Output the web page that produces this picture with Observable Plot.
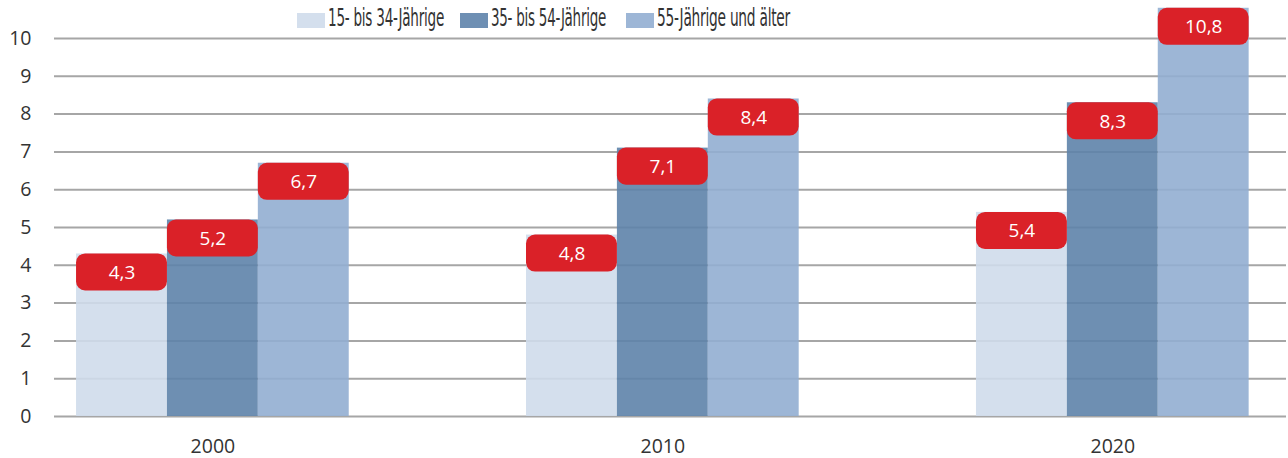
<!DOCTYPE html>
<html>
<head>
<meta charset="utf-8">
<script src="https://cdn.jsdelivr.net/npm/d3@7"></script>
<script src="https://cdn.jsdelivr.net/npm/@observablehq/plot@0.6"></script>
<style>
  html, body { margin: 0; padding: 0; background: #fff; }
  #wrap { position: relative; width: 1288px; height: 458px; }
  #legend { position: absolute; top: 0; left: 0; width: 1288px; height: 40px; z-index: 2;
    font-family: "DejaVu Sans Condensed", "Liberation Sans Narrow", "Open Sans", sans-serif;
    font-size: 24px; color: #333; }
  .sw { position: absolute; top: 13px; width: 28px; height: 15px; }
  .lab { position: absolute; top: 3px; line-height: 30px; white-space: nowrap; transform-origin: 0 0; letter-spacing: -0.4px; }
</style>
</head>
<body>
<div id="wrap"><div id="legend"></div><div id="chart"></div></div>
<script>
const years = [2000, 2010, 2020];
const seriesNames = ["15- bis 34-Jährige", "35- bis 54-Jährige", "55-Jährige und älter"];
const values15to34 = [4.3, 4.8, 5.4];
const values35to54 = [5.2, 7.1, 8.3];
const values55plus = [6.7, 8.4, 10.8];
const yTicks = [0, 1, 2, 3, 4, 5, 6, 7, 8, 9, 10];
const seriesColors = ["#d4dfed", "#6e8fb3", "#9db6d6"];
const barFills = ["#cfdbeb", "#5e83aa", "#92aed1"];

const seriesValues = [values15to34, values35to54, values55plus];
const data = [];
years.forEach((year, i) => {
  seriesValues.forEach((vals, s) => {
    data.push({ year, series: seriesNames[s], s, value: vals[i] });
  });
});

const w = 2.02; // bar width in years
const x1 = d => d.year + (d.s - 1.5) * w;
const x2 = d => d.year + (d.s - 0.5) * w;
const labelH = 0.98;

const chart = Plot.plot({
  width: 1288,
  height: 458,
  marginLeft: 54,
  marginRight: 2,
  marginTop: 38,
  marginBottom: 42,
  style: { fontFamily: "'Open Sans', sans-serif", fontSize: "19.5px", color: "#333", background: "transparent", overflow: "visible" },
  x: { domain: [1996.48, 2023.86], ticks: years, tickFormat: d => String(d), tickSize: 0, tickPadding: 23, label: null },
  y: { domain: [0, 10], ticks: yTicks, tickSize: 0, tickPadding: 23, label: null },
  marks: [
    Plot.ruleY(yTicks, { stroke: "#a6a6a6", strokeWidth: 2 }),
    Plot.rectY(data, { x1, x2, y1: 0, y2: "value", fill: d => barFills[d.s], fillOpacity: 0.9 }),
    Plot.rect(data, { x1, x2, y1: d => d.value, y2: d => d.value - labelH, fill: "#da2128", rx: 9 }),
    Plot.text(data, { x: d => d.year + (d.s - 1) * w, y: "value", dy: 19, text: d => d.value.toFixed(1).replace(".", ","), fill: "white", fontSize: 19, lineAnchor: "middle" })
  ]
});
document.getElementById("chart").appendChild(chart);

// legend layout (pixel positions of swatches and label widths)
const legendSwatchLeft = [297, 460, 626];
const legendTextWidth = [116, 115, 133];
const legend = document.getElementById("legend");
seriesNames.forEach((name, i) => {
  const sw = document.createElement("div");
  sw.className = "sw";
  sw.style.left = legendSwatchLeft[i] + "px";
  sw.style.background = seriesColors[i];
  const label = document.createElement("span");
  label.className = "lab";
  label.style.left = (legendSwatchLeft[i] + 31) + "px";
  label.textContent = name;
  legend.appendChild(sw);
  legend.appendChild(label);
  const natural = label.getBoundingClientRect().width;
  label.style.transform = `scaleX(${legendTextWidth[i] / natural})`;
});
</script>
</body>
</html>
